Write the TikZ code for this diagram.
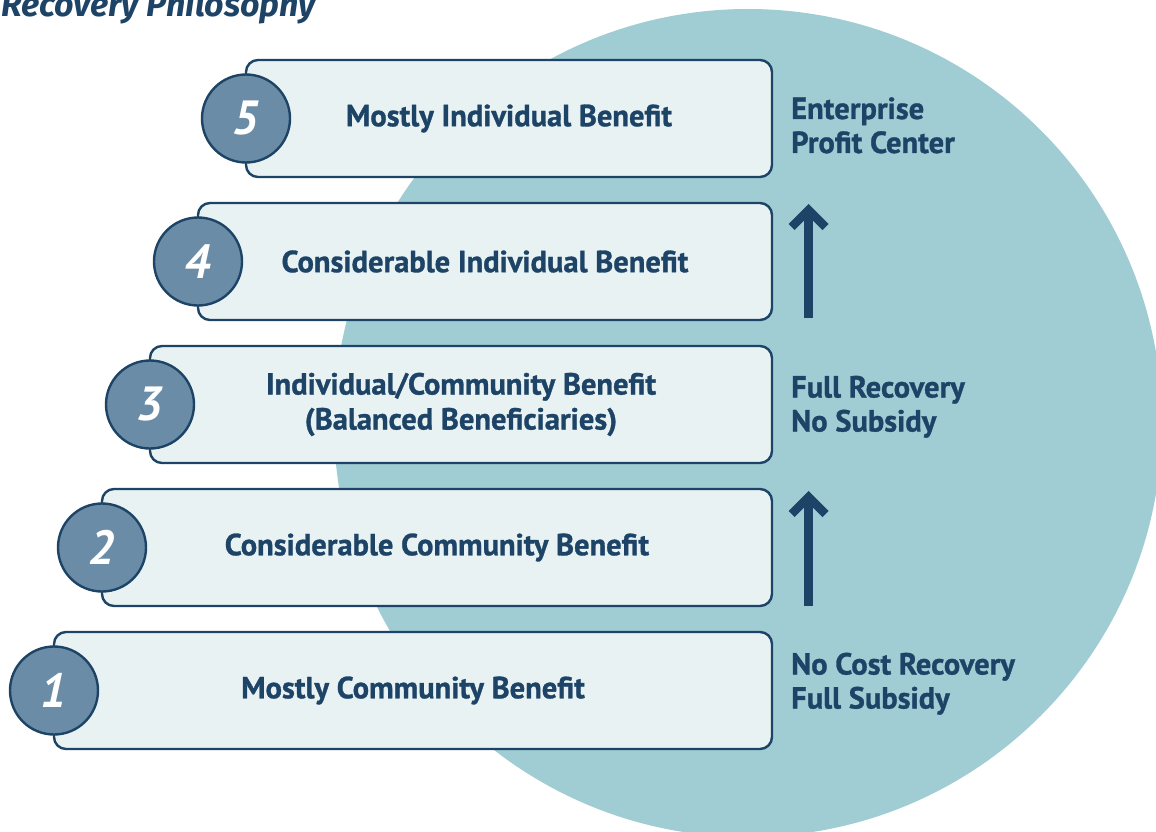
\documentclass[tikz,border=0pt]{standalone}
\usepackage{fontspec}
\setmainfont[BoldFeatures={FakeBold=1}]{PT Sans}
\newfontfamily\titlefont{Fira Sans}
\definecolor{navy}{HTML}{1D4466}
\definecolor{bigteal}{HTML}{9FCDD3}
\definecolor{boxfill}{HTML}{E8F2F3}
\definecolor{numfill}{HTML}{6A8CA6}
\tikzset{
  stepbox/.style={draw=navy, line width=2.4pt, fill=boxfill, rounded corners=12pt,
    minimum height=117pt, inner sep=0pt, text=navy, font=\bfseries\fontsize{30.5}{35}\selectfont, align=center},
  numdisc/.style={circle, draw=navy, line width=2.4pt, fill=numfill, minimum size=88pt, inner sep=0pt,
    text=white, font=\bfseries\itshape\fontsize{48}{48}\selectfont},
  sidelabel/.style={anchor=base west, inner sep=0pt, text=navy, align=left,
    font=\bfseries\fontsize{30.5}{34}\selectfont},
  uparrow/.style={draw=navy, line width=8.5pt},
}
\begin{document}
\begin{tikzpicture}[x=1pt,y=-1pt]
\useasboundingbox (0,0) rectangle (1156,832);
\clip (0,0) rectangle (1156,832);
% background disc
\fill[bigteal] (748,423) circle[radius=414];
% title
\node[anchor=base east, inner sep=0pt, text=navy, font=\titlefont\bfseries\itshape\fontsize{34}{34}\selectfont] (title) at (316,17) {Recovery Philosophy};
% boxes
\foreach \i/\L/\T/\txt in {5/246/60/{Mostly Individual Benefit},4/198/203/{Considerable Individual Benefit},3/150/346/{Individual/Community Benefit\\(Balanced Beneficiaries)},2/102/489/{Considerable Community Benefit},1/54/632/{Mostly Community Benefit}}{
  \pgfmathsetmacro{\cx}{(\L+772)/2}
  \pgfmathsetmacro{\w}{772-\L}
  \pgfmathsetmacro{\cy}{\T+58.5}
  \node[stepbox, minimum width=\w pt] (b\i) at (\cx,\cy) {\txt};
  \node[numdisc] (n\i) at (\L,\cy) {\i};
}
% side labels (base anchor = baseline of the last line)
\node[sidelabel] (top) at (791,153) {Enterprise\\Profit Center};
\node[sidelabel] (mid) at (791,431.5) {Full Recovery\\No Subsidy};
\node[sidelabel] (low) at (791,708.5) {No Cost Recovery\\Full Subsidy};
% arrows
\coordinate (a1s) at (808.5,318);
\coordinate (a1t) at (808.5,210);
\coordinate (a2s) at (808.5,606);
\coordinate (a2t) at (808.5,497);
\draw[uparrow] (a1s) -- ([yshift=-3pt]a1t);
\draw[uparrow, line join=miter] ([xshift=-17pt,yshift=-17pt]a1t) -- (a1t) -- ([xshift=17pt,yshift=-17pt]a1t);
\draw[uparrow] (a2s) -- ([yshift=-3pt]a2t);
\draw[uparrow, line join=miter] ([xshift=-17pt,yshift=-17pt]a2t) -- (a2t) -- ([xshift=17pt,yshift=-17pt]a2t);
\end{tikzpicture}
\end{document}
